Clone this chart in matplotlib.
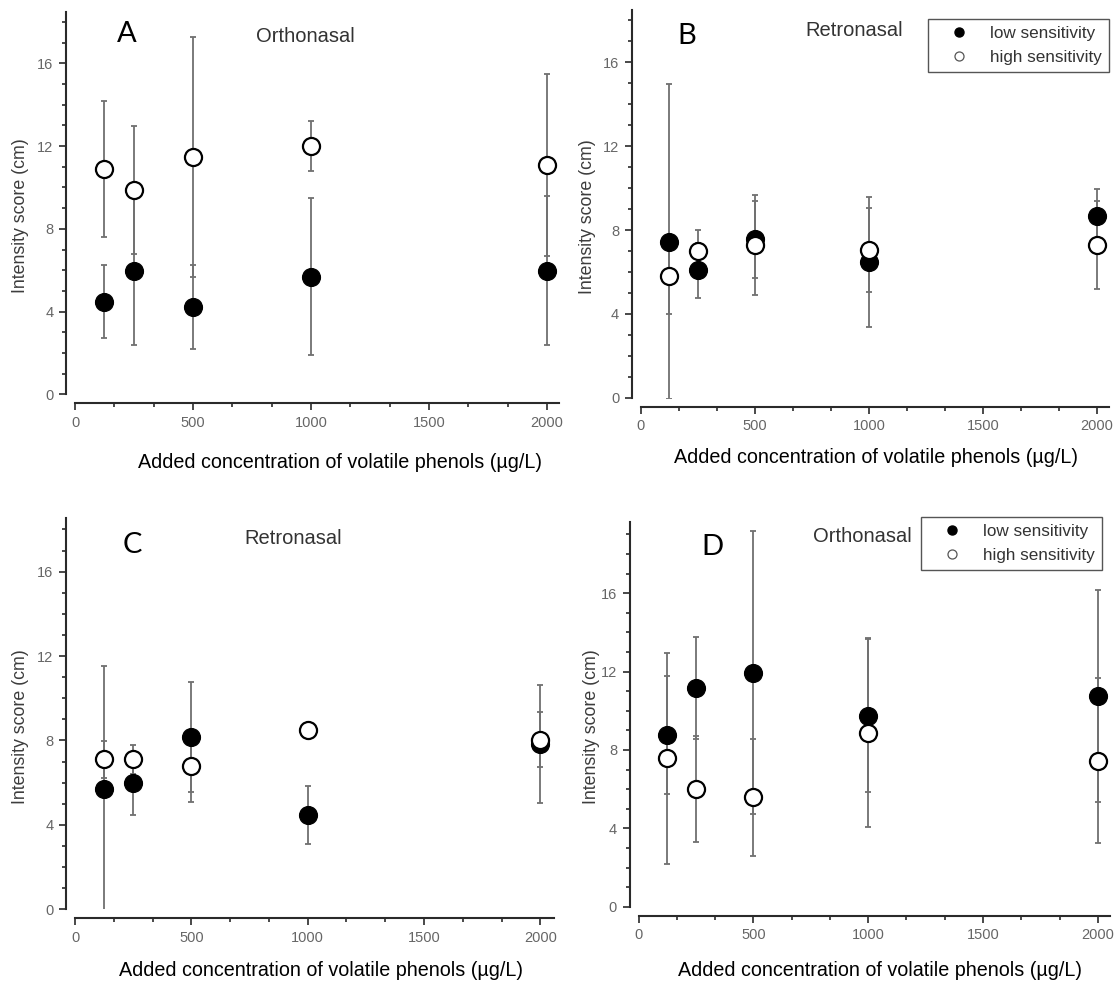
import matplotlib
matplotlib.use('Agg')
import matplotlib.pyplot as plt
from matplotlib.ticker import MultipleLocator
from matplotlib.lines import Line2D

# ---------------- data ----------------
conc = [125, 250, 500, 1000, 2000]

A_low = [4.48, 5.98, 4.20, 5.69, 5.98]
A_low_sd = [1.77, 3.60, 2.03, 3.80, 3.60]
A_high = [10.89, 9.88, 11.49, 12.02, 11.10]
A_high_sd = [3.30, 3.10, 5.80, 1.20, 4.40]

B_low = [7.45, 6.07, 7.56, 6.46, 8.68]
B_low_sd = [7.50, 1.29, 1.83, 3.10, 1.29]
B_high = [5.81, 7.02, 7.29, 7.05, 7.29]
B_high_sd = [1.83, 0.96, 2.40, 2.00, 2.10]

C_low = [5.69, 5.97, 8.18, 4.47, 7.84]
C_low_sd = [5.85, 1.50, 2.60, 1.38, 2.80]
C_high = [7.11, 7.11, 6.79, 8.50, 8.03]
C_high_sd = [0.87, 0.68, 1.72, 0.30, 1.30]

D_low = [8.77, 11.18, 11.95, 9.75, 10.76]
D_low_sd = [3.00, 2.60, 7.20, 3.90, 5.40]
D_high = [7.57, 5.99, 5.58, 8.89, 7.46]
D_high_sd = [5.40, 2.70, 3.00, 4.80, 4.20]

letters = ['A', 'B', 'C', 'D']
titles = ['Orthonasal', 'Retronasal', 'Retronasal', 'Orthonasal']
xticks = [0, 500, 1000, 1500, 2000]
yticks = [0, 4, 8, 12, 16]
xlabel = 'Added concentration of volatile phenols (µg/L)'
ylabel = 'Intensity score (cm)'
legend_labels = ['low sensitivity', 'high sensitivity']

# ---------------- layout ----------------
W, H = 1115, 985
plt.rcParams['font.family'] = ['Liberation Sans', 'DejaVu Sans']
fig = plt.figure(figsize=(W / 100, H / 100), dpi=100)

def fx(px):
    return px / W

def fy(py):
    return 1 - py / H

panels = [
    dict(l=75, r=559, b=394.3, t=11.7, xmax=2051, ymax=18.5,
         low=A_low, low_sd=A_low_sd, high=A_high, high_sd=A_high_sd,
         letter=(127, 34), title=(305, 37), xl=(340, 463), yl=(21, 216), legend=None),
    dict(l=640.7, r=1109, b=397.7, t=10, xmax=2052, ymax=18.5,
         low=B_low, low_sd=B_low_sd, high=B_high, high_sd=B_high_sd,
         letter=(687, 36), title=(854, 30), xl=(876, 458), yl=(588, 217), legend=(928, 19)),
    dict(l=75, r=553.6, b=909.3, t=518.3, xmax=2057, ymax=18.53,
         low=C_low, low_sd=C_low_sd, high=C_high, high_sd=C_high_sd,
         letter=(132, 545), title=(293, 539), xl=(321, 970), yl=(21, 727), legend=None),
    dict(l=638.6, r=1110.4, b=906.7, t=521.7, xmax=2055, ymax=19.65,
         low=D_low, low_sd=D_low_sd, high=D_high, high_sd=D_high_sd,
         letter=(712, 547), title=(862, 537), xl=(880, 970), yl=(592, 727), legend=(921, 517)),
]

spine_col = '#2a2a2a'
tick_col = '#666666'
err_col = '#707070'

for i, p in enumerate(panels):
    ax = fig.add_axes([fx(p['l']), fy(p['b']), fx(p['r'] - p['l']), (p['b'] - p['t']) / H])
    ax.set_xlim(0, p['xmax'])
    ax.set_ylim(0, p['ymax'])

    ax.errorbar(conc, p['low'], yerr=p['low_sd'], fmt='none', ecolor=err_col,
                elinewidth=1.3, capsize=2.5, capthick=1.3, zorder=2)
    ax.errorbar(conc, p['high'], yerr=p['high_sd'], fmt='none', ecolor=err_col,
                elinewidth=1.3, capsize=2.5, capthick=1.3, zorder=2)
    ax.plot(conc, p['low'], linestyle='none', marker='o', markersize=12.8,
            markerfacecolor='black', markeredgecolor='black', zorder=3)
    ax.plot(conc, p['high'], linestyle='none', marker='o', markersize=12.3,
            markerfacecolor='white', markeredgecolor='black', markeredgewidth=1.6, zorder=4)

    for s in ['top', 'right']:
        ax.spines[s].set_visible(False)
    for s in ['left', 'bottom']:
        ax.spines[s].set_position(('outward', 6.5))
        ax.spines[s].set_linewidth(1.5)
        ax.spines[s].set_color(spine_col)

    ax.set_xticks(xticks)
    ax.set_yticks(yticks)
    ax.xaxis.set_minor_locator(MultipleLocator(500 / 3))
    ax.yaxis.set_minor_locator(MultipleLocator(1))
    ax.tick_params(which='major', direction='out', length=5, width=1.2, color=spine_col,
                   labelsize=10.5, labelcolor=tick_col, pad=4)
    ax.tick_params(which='minor', direction='out', length=2.8, width=1.2, color=spine_col)

    fig.text(fx(p['letter'][0]), fy(p['letter'][1]), letters[i], fontsize=21,
             family=['Lato', 'DejaVu Sans'], ha='center', va='center', color='black')
    fig.text(fx(p['title'][0]), fy(p['title'][1]), titles[i], fontsize=14.5,
             ha='center', va='center', color='#333333')
    fig.text(fx(p['xl'][0]), fy(p['xl'][1]), xlabel, fontsize=14.2,
             ha='center', va='center', color='black')
    fig.text(fx(p['yl'][0]), fy(p['yl'][1]), ylabel, fontsize=12.8, rotation=90,
             ha='center', va='center', color='#3c3c3c')

    if p['legend'] is not None:
        handles = [
            Line2D([], [], linestyle='none', marker='o', markersize=6.5,
                   markerfacecolor='black', markeredgecolor='black'),
            Line2D([], [], linestyle='none', marker='o', markersize=6.5,
                   markerfacecolor='white', markeredgecolor='#555555', markeredgewidth=0.9),
        ]
        leg = ax.legend(handles, legend_labels, loc='upper left',
                        bbox_to_anchor=(fx(p['legend'][0]), fy(p['legend'][1])),
                        bbox_transform=fig.transFigure, frameon=True, fancybox=False,
                        edgecolor='#555555', framealpha=1, borderpad=0.42,
                        borderaxespad=0, handletextpad=0.4, labelspacing=0.5,
                        handlelength=2.8, prop=dict(size=12.3))
        leg.get_frame().set_linewidth(1.0)
        for t in leg.get_texts():
            t.set_color('#333333')

fig.savefig('out.png', dpi=100)
